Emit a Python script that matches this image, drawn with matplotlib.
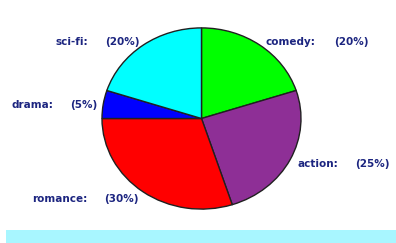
import matplotlib
matplotlib.use('Agg')
import matplotlib.pyplot as plt
from matplotlib.patches import Rectangle

genres = ['comedy', 'action', 'romance', 'drama', 'sci-fi']
shares = [20, 25, 30, 5, 20]
colors = ['#00ff00', '#8e2f96', '#ff0000', '#0000ff', '#00ffff']

# label anchor (left x of name, left x of percent, y) in pixels
label_pos = {'comedy': (266, 334, 42),
             'action': (298, 355, 164),
             'romance': (32, 104, 199),
             'drama': (12, 70, 105),
             'sci-fi': (55, 105, 42)}

W, H = 396, 243
fig = plt.figure(figsize=(W / 100, H / 100), dpi=100)
fig.patch.set_facecolor('white')

# pie box in pixels: x 101..302, y 27..210
ax = fig.add_axes([101 / W, 1 - 210 / H, 201 / W, 183 / H])
ax.pie(shares, colors=colors, startangle=90, counterclock=False,
       wedgeprops={'edgecolor': '#202020', 'linewidth': 1.0})
ax.set_aspect('auto')
ax.set_xlim(-1.01, 1.01)
ax.set_ylim(-1.01, 1.01)
ax.axis('off')

txt_color = '#1c2580'
for g, s in zip(genres, shares):
    x1, x2, y = label_pos[g]
    fig.text(x1 / W, 1 - y / H, g + ':', color=txt_color, fontsize=7.5,
             fontweight='bold', family='DejaVu Sans', va='center', ha='left')
    fig.text(x2 / W, 1 - y / H, '(%d%%)' % s, color=txt_color, fontsize=7.5,
             fontweight='bold', family='DejaVu Sans', va='center', ha='left')

# light cyan band at the bottom
fig.patches.append(Rectangle((6 / W, 0), 1 - 6 / W, 13 / H, transform=fig.transFigure,
                             facecolor='#a8f6ff', edgecolor='none'))

fig.savefig('out.png', dpi=100)
